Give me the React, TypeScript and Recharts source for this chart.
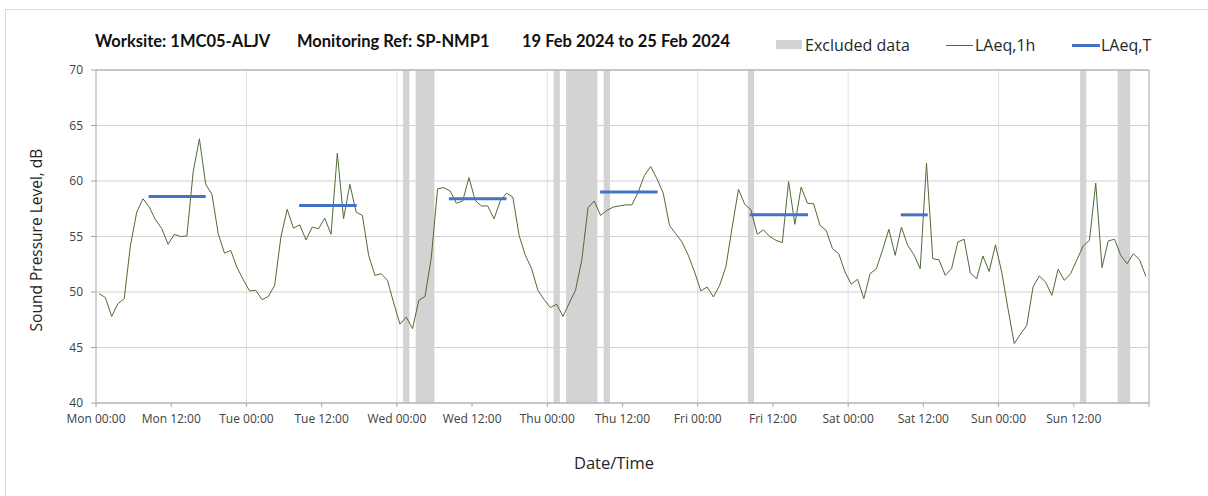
import { LineChart, Line, XAxis, YAxis, CartesianGrid, ReferenceArea, ReferenceLine } from 'recharts'

// hourly LAeq,1h readings, Mon 00:00 -> Sun 23:00
const laeq1h = [
  49.85, 49.5, 47.8, 48.95, 49.4, 54.2, 57.2, 58.4, 57.65, 56.5, 55.7, 54.3,
  55.2, 55.0, 55.05, 60.8, 63.8, 59.7, 58.8, 55.25, 53.5, 53.75, 52.2, 51.1,
  50.1, 50.15, 49.3, 49.6, 50.6, 54.95, 57.45, 55.75, 56.05, 54.7, 55.85, 55.7,
  56.65, 55.2, 62.5, 56.6, 59.7, 57.2, 56.9, 53.3, 51.5, 51.65, 51.05, 49.0,
  47.1, 47.75, 46.7, 49.25, 49.6, 53.15, 59.3, 59.4, 59.1, 58.0, 58.2, 60.3,
  58.25, 57.75, 57.75, 56.6, 58.2, 58.9, 58.55, 55.1, 53.3, 52.1, 50.15, 49.3,
  48.6, 48.9, 47.8, 49.0, 50.15, 52.85, 57.6, 58.2, 56.9, 57.35, 57.65, 57.75,
  57.85, 57.85, 59.0, 60.5, 61.3, 60.2, 58.9, 56.0, 55.25, 54.5, 53.3, 51.8,
  50.1, 50.45, 49.55, 50.6, 52.3, 55.85, 59.25, 57.9, 57.4, 55.2, 55.6, 55.0,
  54.65, 54.45, 59.95, 56.1, 59.45, 58.0, 57.95, 56.0, 55.55, 53.9, 53.45, 51.8,
  50.7, 51.15, 49.4, 51.65, 52.1, 53.8, 55.65, 53.3, 55.85, 54.2, 53.35, 52.1,
  61.6, 53.0, 52.9, 51.5, 52.1, 54.5, 54.75, 51.7, 51.2, 53.25, 51.85, 54.25,
  51.8, 48.5, 45.35, 46.2, 47.0, 50.45, 51.45, 50.9, 49.7, 52.05, 51.05, 51.65,
  52.9, 54.15, 54.65, 59.8, 52.2, 54.6, 54.75, 53.3, 52.55, 53.45, 52.9, 51.4,
]

// LAeq,T over each working period (hours from Mon 00:00)
const periodStart = [8.4, 32.4, 56.3, 80.4, 104.3, 128.4]
const periodEnd = [17.5, 41.6, 65.5, 89.6, 113.6, 132.7]
const laeqT = [58.6, 57.8, 58.4, 59.0, 56.95, 56.95]

// excluded data windows (hours from Mon 00:00)
const excludedFrom = [49, 51, 73, 75, 81, 104, 157, 163]
const excludedTo = [50, 54, 74, 80, 82, 105, 158, 165]

const days = ['Mon', 'Tue', 'Wed', 'Thu', 'Fri', 'Sat', 'Sun']
const xTicks = [0, 12, 24, 36, 48, 60, 72, 84, 96, 108, 120, 132, 144, 156, 168]
const dayLines = [24, 48, 72, 96, 120, 144]
const yTicks = [40, 45, 50, 55, 60, 65, 70]

const fmtX = (v: number) => {
  if (v >= 168) return ''
  return days[Math.floor(v / 24)] + (v % 24 === 0 ? ' 00:00' : ' 12:00')
}

const tickStyle = { fill: '#404040', fontSize: 12, fontFamily: 'Open Sans' }
const txt = { position: 'absolute' as const, whiteSpace: 'pre' as const, color: '#262626' }
const title = { ...txt, top: 31, fontSize: 16.5, fontWeight: 700, fontFamily: 'Lato', color: '#111' }

export default function App() {
  const data = laeq1h.map((v, i) => ({ h: i + 0.5, v }))

  return (
    <div style={{ position: 'absolute', left: 0, top: 0, width: 1208, height: 496, overflow: 'hidden', background: '#fff', fontFamily: 'Open Sans' }}>
      <div style={{ position: 'absolute', left: 5, top: 9, width: 1220, height: 520, border: '1px solid #d9d9d9' }} />

      <div style={{ ...title, left: 95 }}>Worksite: 1MC05-ALJV</div>
      <div style={{ ...title, left: 297 }}>Monitoring Ref: SP-NMP1</div>
      <div style={{ ...title, left: 522 }}>19 Feb 2024 to 25 Feb 2024</div>

      <div style={{ position: 'absolute', left: 776, top: 40, width: 26, height: 9, background: '#d3d3d3' }} />
      <div style={{ ...txt, left: 805, top: 34, fontSize: 16 }}>Excluded data</div>
      <div style={{ position: 'absolute', left: 946, top: 45, width: 27, height: 1, background: '#4f6b35' }} />
      <div style={{ ...txt, left: 975, top: 34, fontSize: 16 }}>LAeq,1h</div>
      <div style={{ position: 'absolute', left: 1072, top: 44, width: 28, height: 3, background: '#4472c4' }} />
      <div style={{ ...txt, left: 1101, top: 34, fontSize: 16 }}>LAeq,T</div>

      <div style={{ ...txt, left: 36, top: 240, fontSize: 15.5, transform: 'translate(-50%, -50%) rotate(-90deg)' }}>Sound Pressure Level, dB</div>
      <div style={{ ...txt, left: 614, top: 462, fontSize: 16.5, transform: 'translate(-50%, -50%)' }}>Date/Time</div>

      <LineChart width={1208} height={496} data={data} margin={{ top: 70, right: 59, bottom: 63, left: 0 }}>
        <CartesianGrid vertical={false} stroke="#d0d0d0" />
        {dayLines.map(d => (
          <ReferenceLine key={'d' + d} x={d} stroke="#dedede" />
        ))}
        {excludedFrom.map((a, i) => (
          <ReferenceArea key={'e' + i} x1={a} x2={excludedTo[i]} y1={40} y2={70} fill="#d3d3d3" fillOpacity={1} stroke="none" />
        ))}
        <ReferenceLine y={70} stroke="#a6a6a6" />
        <ReferenceLine x={168} stroke="#a6a6a6" />
        <XAxis
          type="number"
          dataKey="h"
          domain={[0, 168]}
          ticks={xTicks}
          tickFormatter={fmtX}
          interval={0}
          height={30}
          tickSize={4}
          tickMargin={7}
          stroke="#a6a6a6"
          tick={tickStyle}
        />
        <YAxis
          type="number"
          domain={[40, 70]}
          ticks={yTicks}
          width={96}
          tickSize={5}
          tickMargin={8}
          stroke="#a6a6a6"
          tick={tickStyle}
        />
        <Line type="linear" dataKey="v" stroke="#4f6b35" strokeWidth={1} dot={false} isAnimationActive={false} />
        {laeqT.map((v, i) => (
          <Line
            key={'t' + i}
            data={[{ h: periodStart[i], v }, { h: periodEnd[i], v }]}
            type="linear"
            dataKey="v"
            stroke="#4472c4"
            strokeWidth={3}
            dot={false}
            isAnimationActive={false}
          />
        ))}
      </LineChart>
    </div>
  )
}
